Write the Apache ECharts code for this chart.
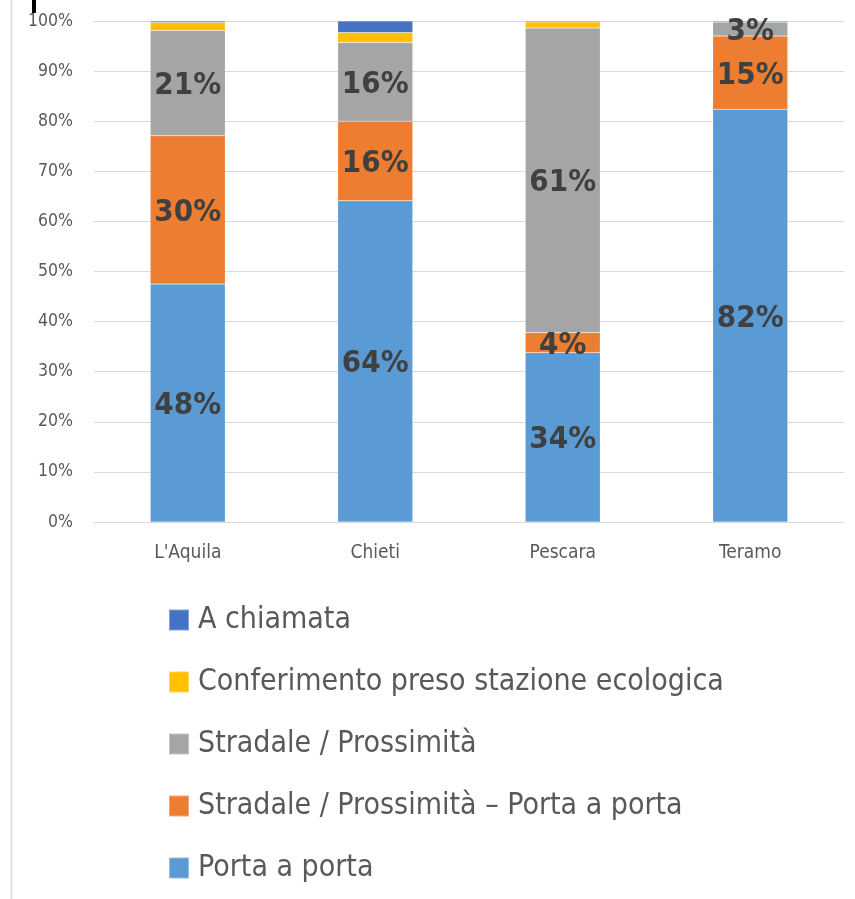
<!DOCTYPE html>
<html>
<head>
<meta charset="utf-8">
<script src="https://cdn.jsdelivr.net/npm/echarts@6/dist/echarts.min.js"></script>
<style>
  html, body { margin: 0; padding: 0; background: #fff; }
  #chart { width: 855px; height: 899px; }
</style>
</head>
<body>
<div id="chart"></div>
<script>
const categories = ["L'Aquila", 'Chieti', 'Pescara', 'Teramo']

// stacked shares in %, bottom to top
const portaAPorta = [47.5, 64.1, 33.8, 82.4]
const stradalePorta = [29.6, 15.9, 4.0, 14.6]
const stradale = [21.0, 15.7, 60.8, 2.8]
const conferimento = [1.6, 2.0, 1.2, 0]
const aChiamata = [0.3, 2.3, 0.2, 0.2]

const seriesDefs = [
  { name: 'Porta a porta', data: portaAPorta, color: '#5B9BD5' },
  { name: 'Stradale / Prossimità – Porta a porta', data: stradalePorta, color: '#ED7D31' },
  { name: 'Stradale / Prossimità', data: stradale, color: '#A5A5A5' },
  { name: 'Conferimento preso stazione ecologica', data: conferimento, color: '#FFC000' },
  { name: 'A chiamata', data: aChiamata, color: '#4472C4' },
]

const font = '"DejaVu Sans Condensed", "Liberation Sans Narrow", sans-serif'

const chart = echarts.init(document.getElementById('chart'))

chart.setOption({
  animation: false,
  grid: { left: 94, right: 11, top: 21, bottom: 377, containLabel: false },
  legend: {
    orient: 'vertical',
    left: 168,
    top: 602,
    padding: 0,
    itemWidth: 20,
    itemHeight: 21,
    itemGap: 26,
    icon: 'rect',
    data: seriesDefs.map((s) => s.name).reverse(),
    textStyle: {
      fontFamily: font,
      fontSize: 30,
      lineHeight: 36,
      color: '#595959',
      padding: [0, 0, 0, 4],
    },
  },
  xAxis: {
    type: 'category',
    data: categories,
    axisTick: { show: false },
    axisLine: { lineStyle: { color: '#d9d9d9', width: 1 } },
    axisLabel: {
      fontFamily: font,
      fontSize: 19,
      color: '#595959',
      margin: 22,
    },
  },
  yAxis: {
    type: 'value',
    min: 0,
    max: 100,
    interval: 10,
    axisLine: { show: false },
    axisTick: { show: false },
    axisLabel: {
      formatter: '{value}%',
      fontFamily: font,
      fontSize: 17.5,
      color: '#595959',
      margin: 21,
    },
    splitLine: { lineStyle: { color: '#d9d9d9', width: 1 } },
  },
  series: seriesDefs.map((s) => ({
    name: s.name,
    type: 'bar',
    stack: 'total',
    barWidth: 75,
    data: s.data,
    itemStyle: { color: s.color, borderColor: 'rgba(255,255,255,0.35)', borderWidth: 0.5 },
    label: {
      show: true,
      position: 'inside',
      offset: [0, 3],
      fontFamily: font,
      fontWeight: 'bold',
      fontSize: 31,
      color: '#404040',
      formatter: (p) => (p.value >= 2.5 ? Math.round(p.value) + '%' : ''),
    },
  })),
  graphic: [
    {
      type: 'line',
      shape: { x1: 11.5, y1: 0, x2: 11.5, y2: 899 },
      style: { stroke: '#d9d9d9', lineWidth: 1.5 },
    },
    {
      type: 'rect',
      shape: { x: 32, y: 0, width: 4, height: 13 },
      style: { fill: '#000' },
    },
  ],
})
</script>
</body>
</html>
